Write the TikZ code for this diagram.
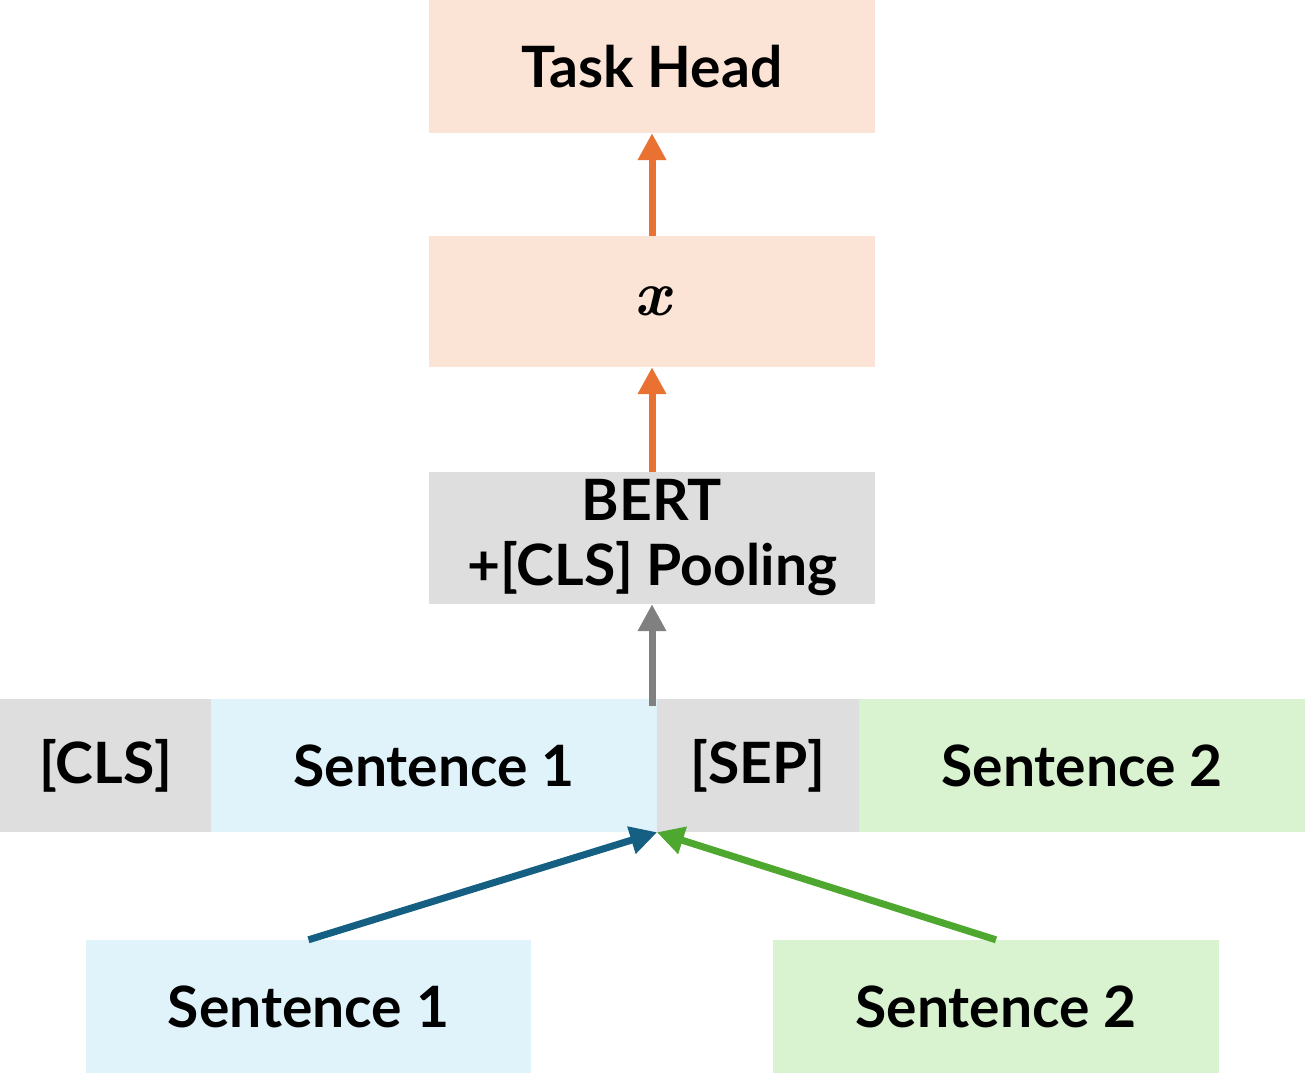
\documentclass[tikz,border=0pt]{standalone}
\usepackage{fontspec}
\setmainfont{Lato}
\newfontfamily\lmrom{Latin Modern Roman}
\usetikzlibrary{arrows.meta}
\definecolor{peach}{HTML}{FBE3D6}
\definecolor{grayfill}{HTML}{DEDEDE}
\definecolor{bluefill}{HTML}{E0F2FA}
\definecolor{greenfill}{HTML}{D9F2D0}
\definecolor{orangeline}{HTML}{E97132}
\definecolor{blueline}{HTML}{156082}
\definecolor{greenline}{HTML}{4EA72E}
\definecolor{grayline}{HTML}{808080}
\tikzset{
  box/.style={draw=none, inner sep=0pt, minimum height=133pt, align=center,
    font=\fontsize{57}{65}\selectfont\bfseries},
  arr/.style={line width=7pt, -{Triangle[width=27pt,length=27pt]}},
}
\begin{document}
\begin{tikzpicture}[x=1pt,y=-1pt]
\useasboundingbox (0,0) rectangle (1305,1074);
\node[box, fill=peach, minimum width=446pt] (th) at (652,66.5) {Task Head};
\node[box, fill=peach, minimum width=446pt, minimum height=131pt] (x) at (652,301.5) {{\lmrom\fontsize{64}{64}\selectfont\bfseries\itshape x}};
\node[box, fill=grayfill, minimum width=446pt, minimum height=132pt] (bert) at (652,538) {BERT\\+[CLS] Pooling};
\node[box, fill=grayfill, minimum width=211pt] (cls) at (105.5,765.5) {[CLS]};
\node[box, fill=bluefill, minimum width=446pt] (s1) at (434,765.5) {Sentence 1};
\node[box, fill=grayfill, minimum width=202pt] (sep) at (758,765.5) {[SEP]};
\node[box, fill=greenfill, minimum width=446pt] (s2) at (1082,765.5) {Sentence 2};
\node[box, fill=bluefill, minimum width=445pt] (b1) at (308.5,1006.5) {Sentence 1};
\node[box, fill=greenfill, minimum width=446pt] (b2) at (996,1006.5) {Sentence 2};
\coordinate (g0) at (652,706);
\draw[arr, draw=orangeline, fill=orangeline] (x.north) -- (th.south);
\draw[arr, draw=orangeline, fill=orangeline] (bert.north) -- (x.south);
\draw[arr, draw=grayline, fill=grayline] (g0) -- (bert.south);
\draw[arr, draw=blueline, fill=blueline] (b1.north) -- (s1.south east);
\draw[arr, draw=greenline, fill=greenline] (b2.north) -- (sep.south west);
\end{tikzpicture}
\end{document}
